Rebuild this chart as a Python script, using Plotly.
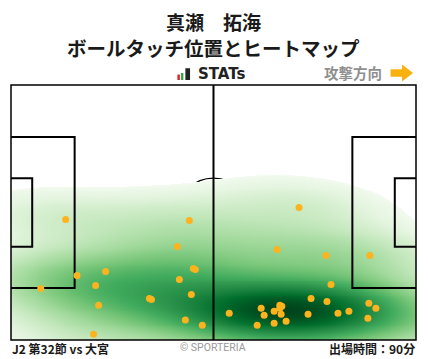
import numpy as np
import plotly.graph_objects as go

# ---------------- data (pitch metres, x: 0..105 attacking right, y: 0..68 from bottom) -------------
touch_x = [14.17, 17.12, 24.52, 21.93, 7.71, 22.71, 21.41,
           46.24, 43.13, 47.27, 47.79, 43.65, 35.89, 36.41, 46.75, 45.20, 49.60,
           74.68, 68.99, 77.79, 56.58, 64.86, 68.22, 69.69, 70.21, 69.69, 65.63,
           70.03, 63.82, 68.22, 71.32, 77.01,
           81.67, 93.04, 82.96, 81.92, 84.77, 87.61, 92.78, 94.60, 92.53]
touch_y = [32.13, 17.22, 18.29, 14.56, 13.76, 9.24, 1.52,
           31.86, 24.94, 19.08, 18.82, 16.16, 11.10, 10.83, 12.16, 5.32, 3.91,
           35.32, 24.14, 11.10, 7.11, 8.44, 7.64, 9.24, 8.97, 8.44, 6.57,
           6.84, 3.91, 4.45, 4.98, 6.84,
           22.54, 22.54, 14.83, 10.30, 7.11, 7.64, 9.77, 8.44, 5.78]

title_lines = ["真瀬　拓海", "ボールタッチ位置とヒートマップ"]
match_label = "J2 第32節 vs 大宮"
minutes_label = "出場時間：90分"
direction_label = "攻撃方向"
brand_label = "STATs"
credit_label = "© SPORTERIA"

PITCH_L, PITCH_W = 105.0, 68.0
PEN_D, PEN_H = 16.5, 40.32
GOAL_D, GOAL_H = 5.5, 18.32
CIRCLE_R = 9.15
BW_ADJUST = 1.15
MASS_CUT = 0.015
GAMMA = 0.55

# ---------------- kernel density (scott bandwidth, full covariance) ----------------
data = np.vstack([touch_x, touch_y])
n = data.shape[1]
factor = n ** (-1.0 / 6.0) * BW_ADJUST
cov = np.cov(data) * factor ** 2
inv = np.linalg.inv(cov)


def density(gx, gy):
    X, Y = np.meshgrid(gx, gy)
    out = np.zeros_like(X)
    for i in range(n):
        dx = X - data[0, i]
        dy = Y - data[1, i]
        q = inv[0, 0] * dx * dx + 2 * inv[0, 1] * dx * dy + inv[1, 1] * dy * dy
        out += np.exp(-0.5 * q)
    return out

bgx = np.linspace(-70, 175, 491)
bgy = np.linspace(-50, 118, 337)
big = density(bgx, bgy).ravel()
srt = np.sort(big)
cum = np.cumsum(srt) / srt.sum()
thr = srt[np.searchsorted(cum, MASS_CUT)]

gx = np.arange(0, PITCH_L + 0.001, 0.25)
gy = np.arange(0, PITCH_W + 0.001, 0.25)
Z = density(gx, gy)
zmax = Z.max()
val = np.clip((Z - thr) / (zmax - thr), 0, 1) ** GAMMA
Zm = np.where(Z >= thr, val, np.nan)

greens = [[0.0, "#f5fbf2"], [0.125, "#e5f5e0"], [0.25, "#c7e9c0"], [0.375, "#a1d99b"],
          [0.5, "#74c476"], [0.625, "#41ab5d"], [0.75, "#238b45"], [0.875, "#006d2c"],
          [1.0, "#00441b"]]

fig = go.Figure()
fig.add_trace(go.Heatmap(x=gx, y=gy, z=Zm, zmin=0, zmax=1.0, colorscale=greens,
                         showscale=False, hoverinfo="skip", zsmooth=False))


def line_trace(xs, ys):
    fig.add_trace(go.Scatter(x=xs, y=ys, mode="lines", line=dict(color="black", width=2),
                             hoverinfo="skip", showlegend=False))

c = PITCH_W / 2
line_trace([PITCH_L / 2, PITCH_L / 2], [0, PITCH_W])
line_trace([0, PEN_D, PEN_D, 0], [c - PEN_H / 2, c - PEN_H / 2, c + PEN_H / 2, c + PEN_H / 2])
line_trace([0, GOAL_D, GOAL_D, 0], [c - GOAL_H / 2, c - GOAL_H / 2, c + GOAL_H / 2, c + GOAL_H / 2])
line_trace([PITCH_L, PITCH_L - PEN_D, PITCH_L - PEN_D, PITCH_L],
           [c - PEN_H / 2, c - PEN_H / 2, c + PEN_H / 2, c + PEN_H / 2])
line_trace([PITCH_L, PITCH_L - GOAL_D, PITCH_L - GOAL_D, PITCH_L],
           [c - GOAL_H / 2, c - GOAL_H / 2, c + GOAL_H / 2, c + GOAL_H / 2])

fig.add_trace(go.Scatter(x=touch_x, y=touch_y, mode="markers",
                         marker=dict(color="#FCB31E", size=7, line=dict(width=0)),
                         hoverinfo="skip", showlegend=False))

# ---------------- layout (page body has an 8px margin, so the figure is offset by 8px) --------
OFF = 8
W, H = 428 - OFF, 359 - OFF
ML, MR, MT, MB = 10.5 - OFF, 11.5, 84.5 - OFF, 19
PW, PH = W - ML - MR, H - MT - MB


def px(x):
    return (x - OFF - ML) / PW


def py(y):
    return (H - MB - (y - OFF)) / PH


shapes = [
    dict(type="circle", xref="x", yref="y", x0=PITCH_L / 2 - CIRCLE_R, x1=PITCH_L / 2 + CIRCLE_R,
         y0=c - CIRCLE_R, y1=c + CIRCLE_R, line=dict(color="black", width=1.2), layer="below"),
    dict(type="rect", xref="paper", yref="paper", x0=0, x1=1, y0=0, y1=1,
         line=dict(color="black", width=1.5), layer="above"),
    dict(type="rect", xref="paper", yref="paper", x0=px(177.3), x1=px(179.8), y0=py(79.5), y1=py(74),
         fillcolor="#D9262C", line=dict(width=0)),
    dict(type="rect", xref="paper", yref="paper", x0=px(180.8), x1=px(183.3), y0=py(79.5), y1=py(72.5),
         fillcolor="#2FA84F", line=dict(width=0)),
    dict(type="rect", xref="paper", yref="paper", x0=px(185.3), x1=px(190), y0=py(79.5), y1=py(67.7),
         fillcolor="#222222", line=dict(width=0)),
]
ax = [391, 402.5, 402.5, 413.5, 402.5, 402.5, 391]
ay = [68.8, 68.8, 64, 72.5, 81, 76.2, 76.2]
path = "M " + " L ".join(f"{px(a):.5f},{py(b):.5f}" for a, b in zip(ax, ay)) + " Z"
shapes.append(dict(type="path", xref="paper", yref="paper", path=path,
                   fillcolor="#F9B10F", line=dict(width=0)))

JP = "Noto Sans CJK JP"
annotations = [
    dict(text=title_lines[0], x=px(214), y=py(20.5),
         font=dict(family=JP, size=19, color="#1a1a1a", weight=700)),
    dict(text=title_lines[1], x=px(214), y=py(46.5),
         font=dict(family=JP, size=19.5, color="#1a1a1a", weight=700)),
    dict(text=brand_label, x=px(196), y=py(73.5), xanchor="left",
         font=dict(family="DejaVu Sans", size=15, color="#222222", weight=700)),
    dict(text=direction_label, x=px(384.5), y=py(72), xanchor="right",
         font=dict(family=JP, size=14.5, color="#8f8f8f", weight=700)),
    dict(text=match_label, x=px(9.5), y=py(349), xanchor="left",
         font=dict(family=JP, size=12, color="#1a1a1a", weight=700)),
    dict(text=credit_label, x=px(212.5), y=py(348), font=dict(family="Roboto", size=10.5, color="#9a9a9a")),
    dict(text=minutes_label, x=px(417.5), y=py(349), xanchor="right",
         font=dict(family=JP, size=12, color="#1a1a1a", weight=700)),
]
for a in annotations:
    a.update(xref="paper", yref="paper", showarrow=False)
    a.setdefault("xanchor", "center")
    a["yanchor"] = "middle"

fig.update_layout(
    width=W, height=H, margin=dict(l=ML, r=MR, t=MT, b=MB, pad=0),
    paper_bgcolor="white", plot_bgcolor="white",
    xaxis=dict(range=[0, PITCH_L], visible=False, fixedrange=True),
    yaxis=dict(range=[0, PITCH_W], visible=False, fixedrange=True),
    shapes=shapes, annotations=annotations, showlegend=False,
)
fig.write_html("out.html")
